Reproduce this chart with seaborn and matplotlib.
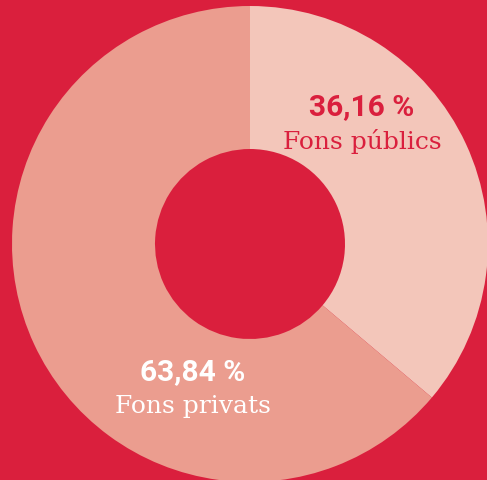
import matplotlib
matplotlib.use('Agg')
import matplotlib.pyplot as plt
import seaborn as sns

labels = ['Fons públics', 'Fons privats']
shares = [36.16, 63.84]
share_labels = ['36,16 %', '63,84 %']

bg = '#DA1F3D'
colors = sns.color_palette(['#F3C6BA', '#EB9D8F'])
text_colors = [bg, '#FFFFFF']

sns.set_style('white')

fig = plt.figure(figsize=(4.87, 4.81), dpi=100)
fig.patch.set_facecolor(bg)
ax = fig.add_axes([0, 0, 1, 1])
ax.set_facecolor(bg)

# work in pixel units, y up
cx, cy = 250, 481 - 245
r_out, r_in = 238, 95

ax.pie(
    shares,
    colors=colors,
    startangle=90,
    counterclock=False,
    center=(cx, cy),
    radius=r_out,
    wedgeprops=dict(width=r_out - r_in, linewidth=0),
)
ax.set_xlim(0, 487)
ax.set_ylim(0, 481)
ax.set_aspect('auto')
ax.axis('off')

# label positions (pixels from top-left)
label_pos = [(362, 107, 142), (193, 372, 407)]
for (x, y_num, y_txt), num, lab, col in zip(label_pos, share_labels, labels, text_colors):
    ax.text(x, 481 - y_num, num, ha='center', va='center', color=col,
            fontsize=21.5, fontweight='bold', family=['Roboto', 'DejaVu Sans'])
    ax.text(x, 481 - y_txt, lab, ha='center', va='center', color=col,
            fontsize=18, family=['DejaVu Serif'])

fig.savefig('out.png', dpi=100, facecolor=bg)
